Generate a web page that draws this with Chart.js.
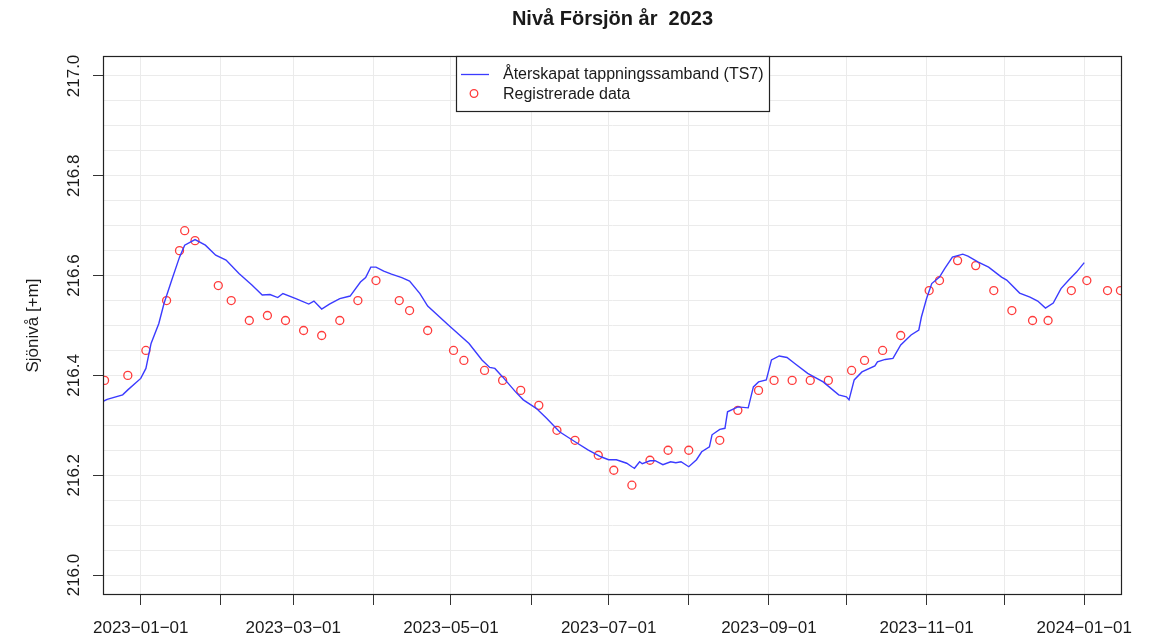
<!DOCTYPE html>
<html lang="sv">
<head>
<meta charset="utf-8">
<script src="https://cdn.jsdelivr.net/npm/chart.js@4.4.1/dist/chart.umd.min.js"></script>
<style>
  body { margin: 0; background: #fff; }
  #wrap { width: 1158px; height: 635px; }
</style>
</head>
<body>
<div id="wrap"><canvas id="myChart"></canvas></div>
<script>
// Återskapat tappningssamband (TS7) - modellerad nivå
var modelDates = [
  '2022-12-17','2022-12-19','2022-12-25','2022-12-27','2023-01-01','2023-01-03','2023-01-05','2023-01-08',
  '2023-01-10','2023-01-13','2023-01-16','2023-01-18','2023-01-22','2023-01-26','2023-01-30','2023-02-03',
  '2023-02-08','2023-02-13','2023-02-17','2023-02-20','2023-02-23','2023-02-25','2023-03-02','2023-03-07',
  '2023-03-09','2023-03-12','2023-03-15','2023-03-19','2023-03-23','2023-03-27','2023-03-29','2023-03-31',
  '2023-04-02','2023-04-05','2023-04-08','2023-04-12','2023-04-15','2023-04-19','2023-04-22','2023-04-30',
  '2023-05-08','2023-05-13','2023-05-16','2023-05-18','2023-05-21','2023-05-26','2023-05-29','2023-06-03',
  '2023-06-07','2023-06-12','2023-06-18','2023-06-23','2023-06-28','2023-07-01','2023-07-04','2023-07-08',
  '2023-07-10','2023-07-11','2023-07-13','2023-07-14','2023-07-17','2023-07-19','2023-07-22','2023-07-25',
  '2023-07-27','2023-07-29','2023-08-01','2023-08-04','2023-08-06','2023-08-09','2023-08-10','2023-08-13',
  '2023-08-15','2023-08-16','2023-08-20','2023-08-24','2023-08-26','2023-08-28','2023-08-31','2023-09-02',
  '2023-09-05','2023-09-08','2023-09-11','2023-09-16','2023-09-22','2023-09-28','2023-10-01','2023-10-02',
  '2023-10-04','2023-10-07','2023-10-12','2023-10-13','2023-10-16','2023-10-19','2023-10-22','2023-10-26',
  '2023-10-29','2023-10-30','2023-11-01','2023-11-03','2023-11-06','2023-11-08','2023-11-11','2023-11-15',
  '2023-11-17','2023-11-21','2023-11-25','2023-11-30','2023-12-02','2023-12-07','2023-12-11','2023-12-14',
  '2023-12-17','2023-12-20','2023-12-23','2023-12-26','2023-12-29','2024-01-01'
];
var modelLevels = [
  216.347,216.352,216.361,216.371,216.394,216.414,216.464,216.504,
  216.544,216.591,216.637,216.661,216.672,216.661,216.641,216.631,
  216.604,216.581,216.561,216.562,216.556,216.564,216.554,216.543,
  216.549,216.533,216.543,216.554,216.559,216.587,216.596,216.617,
  216.617,216.609,216.603,216.596,216.589,216.564,216.539,216.501,
  216.464,216.431,216.416,216.414,216.397,216.367,216.351,216.334,
  216.314,216.287,216.267,216.251,216.237,216.231,216.231,216.224,
  216.217,216.214,216.227,216.223,216.229,216.229,216.221,216.227,
  216.225,216.227,216.217,216.231,216.247,216.257,216.281,216.292,
  216.294,216.327,216.337,216.335,216.377,216.387,216.391,216.431,
  216.439,216.436,216.424,216.404,216.387,216.361,216.357,216.351,
  216.391,216.407,216.419,216.427,216.432,216.434,216.461,216.481,
  216.491,216.517,216.554,216.584,216.597,216.614,216.637,216.643,
  216.639,216.627,216.617,216.597,216.591,216.565,216.557,216.549,
  216.535,216.545,216.574,216.591,216.607,216.626
];

// Registrerade data
var obsDates = [
  '2022-12-18','2022-12-27','2023-01-03','2023-01-11','2023-01-16','2023-01-18','2023-01-22','2023-01-31',
  '2023-02-05','2023-02-12','2023-02-19','2023-02-26','2023-03-05','2023-03-12','2023-03-19','2023-03-26',
  '2023-04-02','2023-04-11','2023-04-15','2023-04-22','2023-05-02','2023-05-06','2023-05-14','2023-05-21',
  '2023-05-28','2023-06-04','2023-06-11','2023-06-18','2023-06-27','2023-07-03','2023-07-10','2023-07-17',
  '2023-07-24','2023-08-01','2023-08-13','2023-08-20','2023-08-28','2023-09-03','2023-09-10','2023-09-17',
  '2023-09-24','2023-10-03','2023-10-08','2023-10-15','2023-10-22','2023-11-02','2023-11-06','2023-11-13',
  '2023-11-20','2023-11-27','2023-12-04','2023-12-12','2023-12-18','2023-12-27','2024-01-02','2024-01-10',
  '2024-01-15'
];
var obsLevels = [
  216.39,216.40,216.45,216.55,216.65,216.69,216.67,216.58,
  216.55,216.51,216.52,216.51,216.49,216.48,216.51,216.55,
  216.59,216.55,216.53,216.49,216.45,216.43,216.41,216.39,
  216.37,216.34,216.29,216.27,216.24,216.21,216.18,216.23,
  216.25,216.25,216.27,216.33,216.37,216.39,216.39,216.39,
  216.39,216.41,216.43,216.45,216.48,216.57,216.59,216.63,
  216.62,216.57,216.53,216.51,216.51,216.57,216.59,216.57,
  216.57
];

var monthTicks = ['2023-01-01','2023-02-01','2023-03-01','2023-04-01','2023-05-01','2023-06-01','2023-07-01',
                  '2023-08-01','2023-09-01','2023-10-01','2023-11-01','2023-12-01','2024-01-01'];
var monthLabels = ['2023-01-01','2023-03-01','2023-05-01','2023-07-01','2023-09-01','2023-11-01','2024-01-01'];
var yLabels = ['216.0','216.2','216.4','216.6','216.8','217.0'];

var titleText = 'Nivå Försjön år  2023';
var yTitle = 'Sjönivå [+m]';
var legendLabels = ['Återskapat tappningssamband (TS7)', 'Registrerade data'];

var BLUE = '#3b3bff';
var RED = '#ff3b3b';
var FONT = '"Liberation Sans", Arial, Helvetica, sans-serif';

function dag(s) { return Date.parse(s + 'T00:00:00Z') / 86400000; }

var xStart = dag('2023-01-01'), xEnd = dag('2024-01-01');
var xPad = (xEnd - xStart) * 0.04;

var linje = modelDates.map(function (d, i) { return { x: dag(d), y: modelLevels[i] }; });
var punkter = obsDates.map(function (d, i) { return { x: dag(d), y: obsLevels[i] }; });

var yGrid = [];
for (var g = 0; g <= 20; g++) yGrid.push(216 + g * 0.05);

function visaEtikett(v) {
  for (var i = 0; i < monthLabels.length; i++) {
    if (Math.abs(dag(monthLabels[i]) - v) < 0.01) return monthLabels[i].replace(/-/g, '\u2212');
  }
  return '';
}

var rPlot = {
  id: 'rPlot',
  afterDatasetsDraw: function (chart) {
    var ctx = chart.ctx, a = chart.chartArea;
    ctx.save();
    ctx.strokeStyle = '#222';
    ctx.lineWidth = 1.2;
    ctx.strokeRect(a.left + 0.5, a.top + 0.5, a.right - a.left - 1, a.bottom - a.top - 1);
    ctx.restore();
  },
  afterDraw: function (chart) {
    var ctx = chart.ctx, a = chart.chartArea, ys = chart.scales.y;
    ctx.save();
    ctx.fillStyle = '#1a1a1a';

    // titel
    ctx.font = 'bold 20px ' + FONT;
    ctx.textAlign = 'center';
    ctx.textBaseline = 'alphabetic';
    ctx.fillText(titleText, (a.left + a.right) / 2, 25);

    // y-etiketter, roterade som i R
    ctx.font = '17px ' + FONT;
    for (var i = 0; i < yLabels.length; i++) {
      var py = ys.getPixelForValue(parseFloat(yLabels[i]));
      ctx.save();
      ctx.translate(79, py);
      ctx.rotate(-Math.PI / 2);
      ctx.fillText(yLabels[i], 0, 0);
      ctx.restore();
    }
    ctx.save();
    ctx.translate(38, (a.top + a.bottom) / 2);
    ctx.rotate(-Math.PI / 2);
    ctx.fillText(yTitle, 0, 0);
    ctx.restore();

    // legend
    var lx = 456.5, ly = a.top + 0.5, lw = 313, lh = 55;
    ctx.fillStyle = '#fff';
    ctx.fillRect(lx, ly, lw, lh);
    ctx.strokeStyle = '#222';
    ctx.lineWidth = 1.2;
    ctx.strokeRect(lx, ly, lw, lh);

    ctx.strokeStyle = BLUE;
    ctx.lineWidth = 1.3;
    ctx.beginPath();
    ctx.moveTo(461, 74.5);
    ctx.lineTo(489, 74.5);
    ctx.stroke();

    ctx.strokeStyle = RED;
    ctx.beginPath();
    ctx.arc(474, 93.5, 3.8, 0, Math.PI * 2);
    ctx.stroke();

    ctx.fillStyle = '#1a1a1a';
    ctx.font = '16px ' + FONT;
    ctx.textAlign = 'left';
    ctx.textBaseline = 'middle';
    ctx.fillText(legendLabels[0], 503, 75);
    ctx.fillText(legendLabels[1], 503, 95);
    ctx.restore();
  }
};

var ctx = document.getElementById('myChart').getContext('2d');
var myChart = new Chart(ctx, {
  type: 'line',
  data: {
    datasets: [
      {
        label: legendLabels[0],
        data: linje,
        borderColor: BLUE,
        borderWidth: 1.4,
        pointRadius: 0,
        tension: 0,
        fill: false
      },
      {
        label: legendLabels[1],
        data: punkter,
        showLine: false,
        pointStyle: 'circle',
        pointRadius: 4,
        pointBorderWidth: 1.3,
        pointBorderColor: RED,
        pointBackgroundColor: 'rgba(0,0,0,0)',
        borderColor: RED
      }
    ]
  },
  options: {
    responsive: true,
    maintainAspectRatio: false,
    animation: false,
    layout: { padding: { top: 56, right: 36, left: 0, bottom: 0 } },
    plugins: {
      legend: { display: false },
      title: { display: false },
      tooltip: { enabled: false }
    },
    scales: {
      x: {
        type: 'linear',
        min: xStart - xPad,
        max: xEnd + xPad,
        afterBuildTicks: function (s) {
          s.ticks = monthTicks.map(function (d) { return { value: dag(d) }; });
        },
        afterFit: function (s) { s.height = 40; },
        grid: { color: '#ebebeb', lineWidth: 1, tickLength: 10, tickColor: '#333' },
        border: { display: false },
        ticks: {
          autoSkip: false,
          maxRotation: 0,
          minRotation: 0,
          padding: 13,
          color: '#1a1a1a',
          font: { family: FONT, size: 17 },
          callback: function (v) { return visaEtikett(v); }
        }
      },
      y: {
        type: 'linear',
        min: 215.96,
        max: 217.04,
        afterBuildTicks: function (s) {
          s.ticks = yGrid.map(function (v) { return { value: v }; });
        },
        afterFit: function (s) { s.width = 103; },
        grid: {
          color: '#ebebeb',
          lineWidth: 1,
          tickLength: 10,
          tickColor: function (c) {
            var k = Math.round((c.tick.value - 216) / 0.05);
            return k % 4 === 0 ? '#333' : 'rgba(0,0,0,0)';
          }
        },
        border: { display: false },
        ticks: { display: false }
      }
    }
  },
  plugins: [rPlot]
});
</script>
</body>
</html>
